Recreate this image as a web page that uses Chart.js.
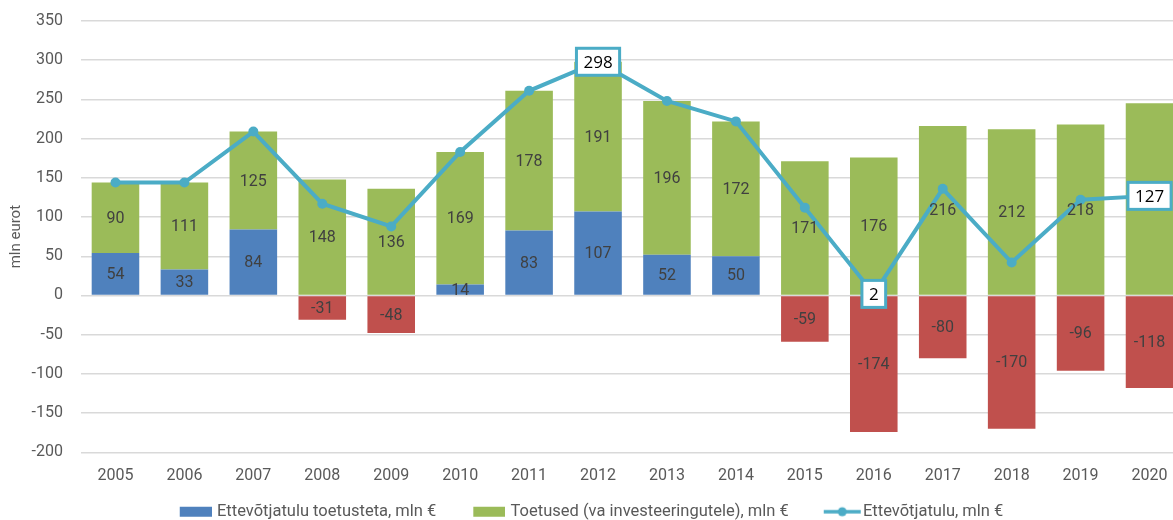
<!DOCTYPE html>
<html>
<head>
<meta charset="utf-8">
<script src="https://cdn.jsdelivr.net/npm/chart.js@4/dist/chart.umd.min.js"></script>
<style>
  html, body { margin: 0; padding: 0; background: #fff; overflow: hidden; }
  #wrap { position: relative; width: 1190px; height: 532px; }
</style>
</head>
<body>
<div id="wrap"><canvas id="chart"></canvas></div>
<script>
// andmed
let years = ['2005', '2006', '2007', '2008', '2009', '2010', '2011', '2012', '2013', '2014', '2015', '2016', '2017', '2018', '2019', '2020'];
let profitNoSubsidy = [54, 33, 84, -31, -48, 14, 83, 107, 52, 50, -59, -174, -80, -170, -96, -118];
let subsidies = [90, 111, 125, 148, 136, 169, 178, 191, 196, 172, 171, 176, 216, 212, 218, 245];
let profit = [144, 144, 209, 117, 88, 183, 261, 298, 248, 222, 112, 2, 136, 42, 122, 127];
let boxedYears = ['2012', '2016', '2020'];

let seriesNames = ['Ettevõtjatulu toetusteta, mln €', 'Toetused (va investeeringutele), mln €', 'Ettevõtjatulu, mln €'];

const BLUE = '#4F81BD';
const RED = '#C0504D';
const GREEN = '#9BBB59';
const TEAL = '#4BACC6';
const TEXT = '#595959';
const FONT = 'Roboto, "Open Sans", sans-serif';

// legend icons (transparent left part gives the gap between items)
function makeRectIcon(color) {
    let c = document.createElement('canvas');
    c.width = 66;
    c.height = 12;
    let g = c.getContext('2d');
    g.fillStyle = color;
    g.fillRect(34, 1, 32, 10);
    return c;
}
function makeLineIcon() {
    let c = document.createElement('canvas');
    c.width = 74;
    c.height = 12;
    let g = c.getContext('2d');
    g.strokeStyle = TEAL;
    g.lineWidth = 3.5;
    g.beginPath();
    g.moveTo(36, 6);
    g.lineTo(73, 6);
    g.stroke();
    g.fillStyle = TEAL;
    g.beginPath();
    g.arc(54.5, 6, 4.5, 0, Math.PI * 2);
    g.fill();
    return c;
}
let legendIcons = [makeRectIcon(BLUE), makeRectIcon(GREEN), makeLineIcon()];

// legend sits a bit left of centre in the original
const legendNudge = {
    id: 'legendNudge',
    afterLayout(chart) {
        let lg = chart.legend;
        lg.left -= 16;
        lg.right -= 16;
        lg.top -= 2;
        lg.bottom -= 2;
    }
};

const barLabels = {
    id: 'barLabels',
    afterDatasetsDraw(chart) {
        let ctx = chart.ctx;
        ctx.save();
        ctx.font = '16px ' + FONT;
        ctx.fillStyle = '#404040';
        ctx.textAlign = 'center';
        ctx.textBaseline = 'middle';
        [0, 1].forEach((di) => {
            let meta = chart.getDatasetMeta(di);
            meta.data.forEach((bar, i) => {
                let p = bar.getProps(['x', 'y', 'base'], true);
                let v = chart.data.datasets[di].data[i];
                ctx.fillText(String(v), p.x, (p.y + p.base) / 2 + 1);
            });
        });

        // boxed labels on the line
        let meta = chart.getDatasetMeta(2);
        ctx.font = '17px "Open Sans", sans-serif';
        meta.data.forEach((pt, i) => {
            if (boxedYears.indexOf(years[i]) < 0) return;
            let txt = String(profit[i]);
            let w = ctx.measureText(txt).width + 14;
            let h = 27;
            ctx.fillStyle = '#fff';
            ctx.fillRect(pt.x - w / 2, pt.y - h / 2, w, h);
            ctx.strokeStyle = TEAL;
            ctx.lineWidth = 3;
            ctx.strokeRect(pt.x - w / 2, pt.y - h / 2, w, h);
            ctx.fillStyle = '#000';
            ctx.fillText(txt, pt.x, pt.y + 1);
        });
        ctx.restore();
    }
};

let ctx = document.getElementById('chart').getContext('2d');
let chart = new Chart(ctx, {
    type: 'bar',
    data: {
        labels: years,
        datasets: [{
            label: seriesNames[0],
            data: profitNoSubsidy,
            backgroundColor: profitNoSubsidy.map((v) => v < 0 ? RED : BLUE),
            stack: 's',
            order: 2,
            barPercentage: 0.69,
            categoryPercentage: 1
        }, {
            label: seriesNames[1],
            data: subsidies,
            backgroundColor: GREEN,
            stack: 's',
            order: 2,
            barPercentage: 0.69,
            categoryPercentage: 1
        }, {
            type: 'line',
            label: seriesNames[2],
            data: profit,
            borderColor: TEAL,
            backgroundColor: TEAL,
            borderWidth: 4,
            pointRadius: 5,
            pointBackgroundColor: TEAL,
            pointBorderWidth: 0,
            tension: 0,
            order: 0
        }]
    },
    options: {
        responsive: true,
        maintainAspectRatio: false,
        animation: false,
        layout: {
            padding: { left: 0, right: 6, top: 21, bottom: 0 }
        },
        plugins: {
            legend: {
                position: 'bottom',
                labels: {
                    usePointStyle: true,
                    pointStyleWidth: 60,
                    boxHeight: 10,
                    padding: 6,
                    color: TEXT,
                    font: { family: FONT, size: 16.5 },
                    generateLabels: (ch) => ch.data.datasets.map((ds, i) => ({
                        text: ds.label,
                        fillStyle: [BLUE, GREEN, TEAL][i],
                        strokeStyle: [BLUE, GREEN, TEAL][i],
                        lineWidth: 0,
                        pointStyle: legendIcons[i],
                        fontColor: TEXT,
                        hidden: false,
                        datasetIndex: i
                    }))
                }
            },
            tooltip: { enabled: false }
        },
        scales: {
            x: {
                stacked: true,
                grid: { display: false, drawTicks: false },
                border: { display: false },
                ticks: {
                    color: TEXT,
                    padding: 14,
                    font: { family: FONT, size: 16 }
                }
            },
            y: {
                stacked: true,
                min: -200,
                max: 350,
                afterFit: (scale) => {
                    scale.width = 81;
                    scale.paddingTop = 0;
                    scale.paddingBottom = 0;
                },
                grid: { color: '#d9d9d9', lineWidth: 1.5, drawTicks: false },
                border: { display: false },
                ticks: {
                    stepSize: 50,
                    color: TEXT,
                    padding: 18,
                    font: { family: FONT, size: 16 }
                },
                title: {
                    display: true,
                    text: 'mln eurot',
                    color: TEXT,
                    padding: { top: 7, bottom: 0 },
                    font: { family: FONT, size: 15 }
                }
            }
        }
    },
    plugins: [barLabels, legendNudge]
});
</script>
</body>
</html>
